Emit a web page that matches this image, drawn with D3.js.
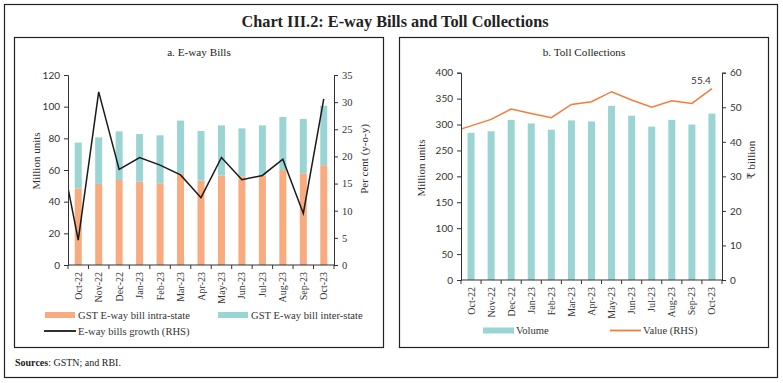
<!DOCTYPE html>
<html><head><meta charset="utf-8">
<script src="https://cdn.jsdelivr.net/npm/d3@7"></script>
<style>body{margin:0;background:#fff}svg{display:block}</style>
</head><body><svg id="c" width="783" height="383"></svg>
<script>
const months = ["Oct-22","Nov-22","Dec-22","Jan-23","Feb-23","Mar-23","Apr-23","May-23","Jun-23","Jul-23","Aug-23","Sep-23","Oct-23"];
const intraState = [48.4,51.2,53.7,52.6,51.6,57.9,53.3,56.4,56.0,56.4,60.0,57.9,63.0];
const interState = [28.9,29.4,30.7,30.1,30.3,33.3,31.3,31.8,30.3,31.8,33.5,34.3,37.6];
const ewayGrowth = [4.6,31.9,17.6,19.8,18.4,16.6,12.4,19.8,15.7,16.5,19.5,9.5,30.6];
const ewayGrowthPrev = 23.8; // Sep-22, only the clipped segment is visible
const tollVolume = [284,287,309,302,290,308,306,336,317,296,309,300,321];
const tollValue = [44.6,46.5,49.5,48.2,47.0,50.8,51.6,54.5,52.1,50.0,51.9,51.1,55.4];
const tollValuePrev = 42.8; // Sep-22, clipped
const ewayLeftTicks = [0,20,40,60,80,100,120];
const ewayRightTicks = [0,5,10,15,20,25,30,35];
const tollLeftTicks = [0,50,100,150,200,250,300,350,400];
const tollRightTicks = [0,10,20,30,40,50,60];
const lastValueLabel = "55.4";

const svg = d3.select("#c");
const serif = "'Liberation Serif', 'DejaVu Serif', serif";
const sans = "Lato, 'Liberation Sans', sans-serif";
const cOrange = "#F8AB7E", cTeal = "#9AD5D3", cLine = "#F37D3A";

// frames
svg.append("rect").attr("x",4.5).attr("y",4.5).attr("width",773).attr("height",373).attr("fill","none").attr("stroke","#222").attr("stroke-width",1.2);
svg.append("rect").attr("x",14.5).attr("y",37.5).attr("width",369).attr("height",310).attr("fill","none").attr("stroke","#222").attr("stroke-width",1.2);
svg.append("rect").attr("x",399.5).attr("y",37.5).attr("width",369).attr("height",310).attr("fill","none").attr("stroke","#222").attr("stroke-width",1.2);

svg.append("text").attr("x",395).attr("y",27).attr("text-anchor","middle").attr("font-family",serif).attr("font-weight","bold").attr("font-size",16.3).attr("fill","#222").text("Chart III.2: E-way Bills and Toll Collections");
svg.append("text").attr("x",199).attr("y",56).attr("text-anchor","middle").attr("font-family",serif).attr("font-size",11.2).attr("fill","#222").text("a. E-way Bills");
svg.append("text").attr("x",584).attr("y",56).attr("text-anchor","middle").attr("font-family",serif).attr("font-size",11.2).attr("fill","#222").text("b. Toll Collections");

const src = svg.append("text").attr("x",15).attr("y",366).attr("font-family",serif).attr("font-size",10).attr("fill","#222");
src.append("tspan").attr("font-weight","bold").text("Sources");
src.append("tspan").text(": GSTN; and RBI.");

function styleAxis(g, fontFam, fs){
  g.selectAll("path,line").attr("stroke","#333");
  g.selectAll("text").attr("font-family",fontFam).attr("font-size",fs).attr("fill","#333");
}

function xAxis(g, x, y0){
  const ax = g.append("g").attr("transform",`translate(0,${y0})`);
  ax.append("line").attr("x1",x.range()[0]).attr("x2",x.range()[1]).attr("stroke","#333");
  const bounds = months.map(m=>x(m)).concat([x.range()[1]]);
  ax.selectAll(".t").data(bounds).join("line").attr("x1",d=>d).attr("x2",d=>d).attr("y1",0).attr("y2",4).attr("stroke","#333");
  ax.selectAll(".l").data(months).join("text")
    .attr("transform",d=>`translate(${x(d)+x.bandwidth()/2+3.5},7) rotate(-90)`)
    .attr("text-anchor","end").attr("font-family",serif).attr("font-size",10).attr("fill","#333").text(d=>d);
}

// ---------- Panel a ----------
{
  const x = d3.scaleBand().domain(months).range([68,334]).padding(0);
  const yL = d3.scaleLinear().domain([0,120]).range([265,75]);
  const yR = d3.scaleLinear().domain([0,35]).range([265,75]);
  const bw = 7;
  const g = svg.append("g");
  g.selectAll(".bi").data(months).join("rect")
    .attr("x",d=>x(d)+x.bandwidth()/2-bw/2).attr("width",bw)
    .attr("y",(d,i)=>yL(intraState[i])).attr("height",(d,i)=>yL(0)-yL(intraState[i])).attr("fill",cOrange);
  g.selectAll(".be").data(months).join("rect")
    .attr("x",d=>x(d)+x.bandwidth()/2-bw/2).attr("width",bw)
    .attr("y",(d,i)=>yL(intraState[i]+interState[i])).attr("height",(d,i)=>yL(intraState[i])-yL(intraState[i]+interState[i])).attr("fill",cTeal);
  svg.append("clipPath").attr("id","clipA").append("rect").attr("x",68).attr("y",60).attr("width",266).attr("height",210);
  const pts = [[x(months[0])+x.bandwidth()/2-x.step(), ewayGrowthPrev]].concat(months.map((m,i)=>[x(m)+x.bandwidth()/2, ewayGrowth[i]]));
  g.append("path").attr("clip-path","url(#clipA)").attr("d",d3.line().x(d=>d[0]).y(d=>yR(d[1]))(pts))
    .attr("fill","none").attr("stroke","#1a1a1a").attr("stroke-width",1.5);
  const al = svg.append("g").attr("transform","translate(68,0)").call(d3.axisLeft(yL).tickValues(ewayLeftTicks).tickSize(4).tickPadding(4));
  styleAxis(al, sans, 10);
  const ar = svg.append("g").attr("transform","translate(334,0)").call(d3.axisRight(yR).tickValues(ewayRightTicks).tickSize(4).tickPadding(4));
  styleAxis(ar, serif, 10.5);
  xAxis(svg.append("g"), x, 265);
  svg.append("text").attr("transform","translate(40,161) rotate(-90)").attr("text-anchor","middle").attr("font-family",serif).attr("font-size",11).attr("fill","#333").text("Million units");
  svg.append("text").attr("transform","translate(368,159) rotate(-90)").attr("text-anchor","middle").attr("font-family",serif).attr("font-size",11).attr("fill","#333").text("Per cent (y-o-y)");
  // legend
  const lg = svg.append("g").attr("font-family",serif).attr("font-size",10.6).attr("fill","#333");
  lg.append("rect").attr("x",45).attr("y",312).attr("width",30).attr("height",6).attr("fill",cOrange);
  lg.append("text").attr("x",78).attr("y",318.5).text("GST E-way bill intra-state");
  lg.append("rect").attr("x",218).attr("y",312).attr("width",30).attr("height",6).attr("fill",cTeal);
  lg.append("text").attr("x",251).attr("y",318.5).text("GST E-way bill inter-state");
  lg.append("line").attr("x1",44).attr("x2",76).attr("y1",331).attr("y2",331).attr("stroke","#1a1a1a").attr("stroke-width",1.8);
  lg.append("text").attr("x",78).attr("y",334.5).text("E-way bills growth (RHS)");
}

// ---------- Panel b ----------
{
  const x = d3.scaleBand().domain(months).range([461,722]).padding(0);
  const yL = d3.scaleLinear().domain([0,400]).range([280,72.7]);
  const yR = d3.scaleLinear().domain([0,60]).range([280,72.7]);
  const bw = 7;
  const g = svg.append("g");
  g.selectAll(".bv").data(months).join("rect")
    .attr("x",d=>x(d)+x.bandwidth()/2-bw/2).attr("width",bw)
    .attr("y",(d,i)=>yL(tollVolume[i])).attr("height",(d,i)=>yL(0)-yL(tollVolume[i])).attr("fill",cTeal);
  svg.append("clipPath").attr("id","clipB").append("rect").attr("x",461).attr("y",60).attr("width",261).attr("height",225);
  const pts = [[x(months[0])+x.bandwidth()/2-x.step(), tollValuePrev]].concat(months.map((m,i)=>[x(m)+x.bandwidth()/2, tollValue[i]]));
  g.append("path").attr("clip-path","url(#clipB)").attr("d",d3.line().x(d=>d[0]).y(d=>yR(d[1]))(pts))
    .attr("fill","none").attr("stroke",cLine).attr("stroke-width",1.5);
  const li = months.length-1;
  g.append("text").attr("x",x(months[li])+x.bandwidth()/2-11).attr("y",yR(tollValue[li])-5)
    .attr("text-anchor","middle").attr("font-family",sans).attr("font-size",10).attr("fill","#333").text(lastValueLabel);
  const al = svg.append("g").attr("transform","translate(461,0)").call(d3.axisLeft(yL).tickValues(tollLeftTicks).tickSize(4).tickPadding(4));
  styleAxis(al, sans, 10);
  const ar = svg.append("g").attr("transform","translate(722,0)").call(d3.axisRight(yR).tickValues(tollRightTicks).tickSize(4).tickPadding(4));
  styleAxis(ar, sans, 10);
  xAxis(svg.append("g"), x, 280);
  svg.append("text").attr("transform","translate(425,168) rotate(-90)").attr("text-anchor","middle").attr("font-family",serif).attr("font-size",11).attr("fill","#333").text("Million units");
  svg.append("text").attr("transform","translate(755,160) rotate(-90)").attr("text-anchor","middle").attr("font-family",serif).attr("font-size",11).attr("fill","#333").text("₹ billion");
  const lg = svg.append("g").attr("font-family",serif).attr("font-size",10.6).attr("fill","#333");
  lg.append("rect").attr("x",483).attr("y",327.5).attr("width",31).attr("height",6).attr("fill",cTeal);
  lg.append("text").attr("x",516).attr("y",334).text("Volume");
  lg.append("line").attr("x1",610).attr("x2",641).attr("y1",330.5).attr("y2",330.5).attr("stroke",cLine).attr("stroke-width",1.8);
  lg.append("text").attr("x",643).attr("y",334).text("Value (RHS)");
}
</script></body></html>
